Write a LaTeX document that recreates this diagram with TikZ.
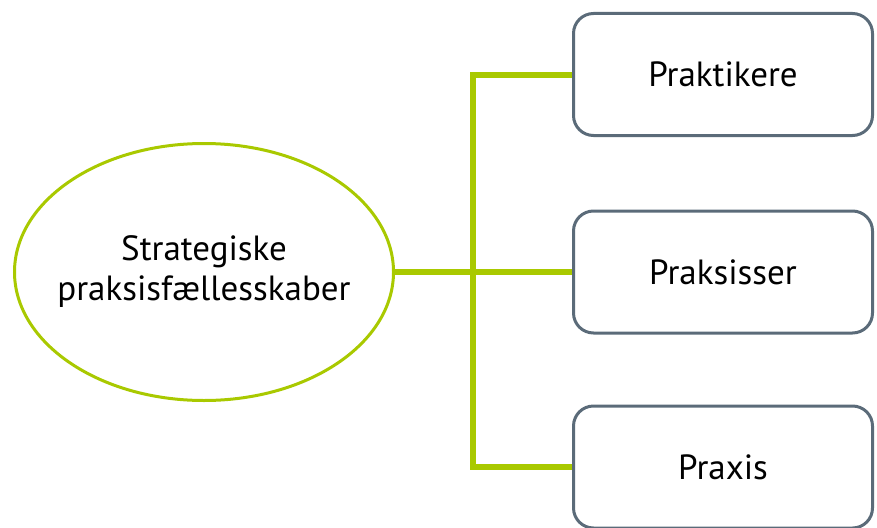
\documentclass[tikz,border=0pt]{standalone}
\usepackage{fontspec}
\setmainfont{PT Sans}
\usetikzlibrary{shapes.geometric}
\definecolor{limegreen}{HTML}{A9C900}
\definecolor{slate}{HTML}{5B6B79}
\tikzset{
  hub/.style={ellipse, draw=limegreen, line width=3pt, minimum width=379pt,
    minimum height=257pt, inner sep=0pt},
  hubtext/.style={align=center, font=\fontsize{35}{40}\selectfont},
  leaf/.style={rectangle, rounded corners=20pt, draw=slate, line width=3pt,
    minimum width=299pt, minimum height=122pt, font=\fontsize{35}{40}\selectfont},
  link/.style={draw=limegreen, line width=6pt}
}
\begin{document}
\begin{tikzpicture}[x=1pt,y=-1pt]
    \useasboundingbox (0,0) rectangle (877,527);
    \node[hub] (S) at (204,272) {};
    \node[hubtext] (St) at (S.center) {Strategiske\\praksisfællesskaber};
    \node[leaf] (P1) at (723,74.5) {Praktikere};
    \node[leaf] (P2) at (723,272) {Praksisser};
    \node[leaf] (P3) at (723,467) {Praxis};
    \coordinate (J) at (473,272);
    \draw[link] (S.east) -- (P2.west);
    \draw[link] (P1.west) -| (J) |- (P3.west);
\end{tikzpicture}
\end{document}
